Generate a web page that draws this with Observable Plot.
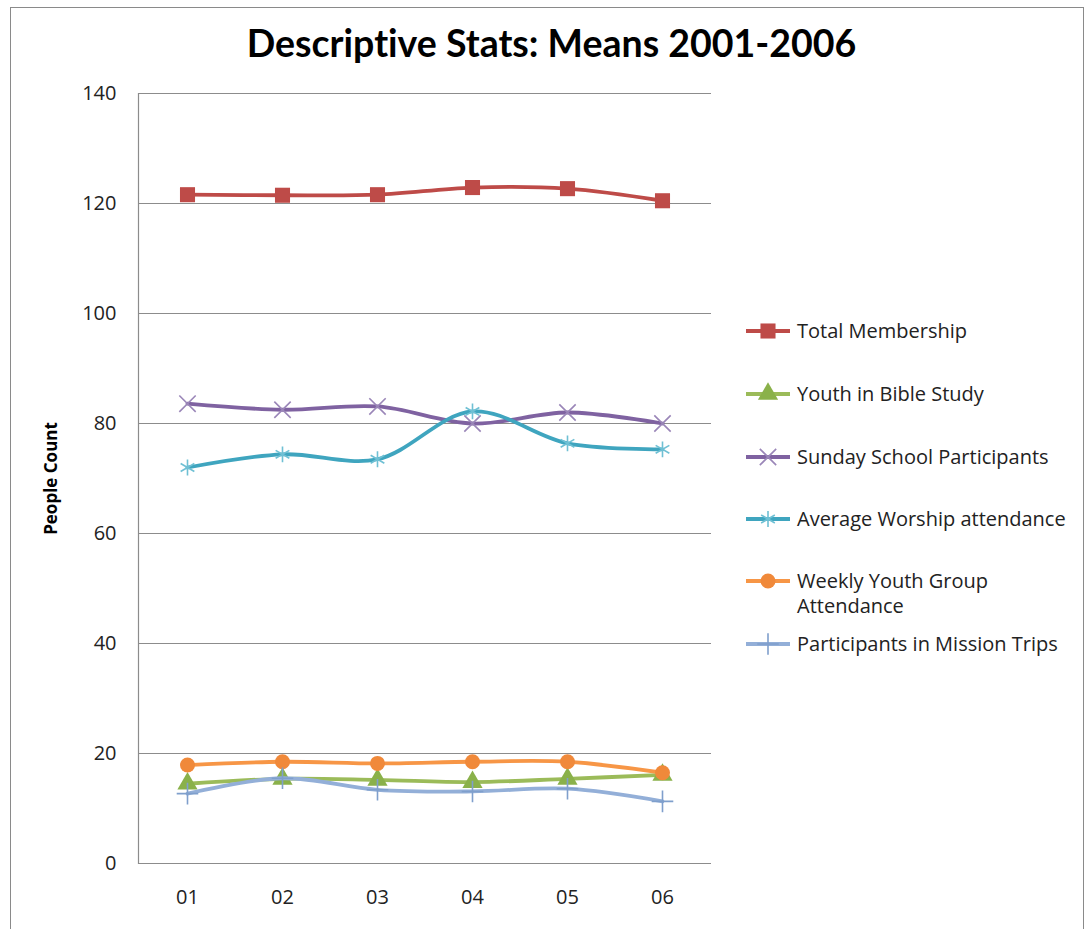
<!DOCTYPE html>
<html>
<head>
<meta charset="utf-8">
<script src="https://cdn.jsdelivr.net/npm/d3@7"></script>
<script src="https://cdn.jsdelivr.net/npm/@observablehq/plot@0.6"></script>
<style>
  html, body { margin: 0; padding: 0; background: #fff; }
  #wrap { position: relative; width: 1089px; height: 929px; overflow: hidden; font-family: "Open Sans", sans-serif; }
  #border { position: absolute; left: 10px; top: 7px; width: 1074px; height: 940px; border: 1.5px solid #8a8a8a; box-sizing: border-box; }
  #title { position: absolute; left: 0; width: 1103px; top: 20px; text-align: center; font-family: Lato, sans-serif; font-weight: bold; font-size: 37.5px; color: #000; font-variant-ligatures: none; font-feature-settings: "liga" 0; }
  #chart { position: absolute; left: 0; top: 70px; }
  #legend { position: absolute; left: 745px; top: 0; font-family: "Open Sans", sans-serif; font-size: 20px; color: #222; }
  .item { position: absolute; left: 0; display: flex; align-items: flex-start; white-space: nowrap; line-height: 25px; }
  .item svg { flex: none; margin-top: 1px; }
  .item span { margin-left: 6px; }
  #chart svg [aria-label="y-axis label"] text { font-weight: bold; font-size: 17px; fill: #000; }
  #chart svg [aria-label="y-axis tick label"] text, #chart svg [aria-label="x-axis tick label"] text { font-size: 20px !important; }
</style>
</head>
<body>
<div id="wrap">
  <div id="border"></div>
  <div id="title">Descriptive Stats: Means 2001-2006</div>
  <div id="chart"></div>
  <div id="legend"></div>
</div>
<script>
// ---- data ----
const years = ["01", "02", "03", "04", "05", "06"];
const seriesNames = [
  "Total Membership",
  "Youth in Bible Study",
  "Sunday School Participants",
  "Average Worship attendance",
  "Weekly Youth Group Attendance",
  "Participants in Mission Trips"
];
const totalMembership   = [121.6, 121.5, 121.6, 122.9, 122.7, 120.5];
const youthBibleStudy   = [14.5, 15.4, 15.2, 14.8, 15.4, 16.1];
const sundaySchool      = [83.6, 82.5, 83.1, 80.0, 82.0, 80.0];
const worshipAttendance = [72.0, 74.4, 73.5, 82.2, 76.4, 75.3];
const weeklyYouthGroup  = [17.9, 18.5, 18.2, 18.5, 18.5, 16.5];
const missionTrips      = [12.7, 15.5, 13.4, 13.1, 13.6, 11.3];
const yTicks = [0, 20, 40, 60, 80, 100, 120, 140];

// ---- styles ----
const lineColors   = ["#be4b48", "#9bbb59", "#7f62a1", "#3fa5bf", "#f79646", "#93afd8"];
const markerColors = ["#be4b48", "#8ab14a", "#9a86b8", "#6fc0d4", "#f0893a", "#7f9fcc"];
const symbols      = ["square", "triangle", "times", "asterisk", "circle", "plus"];
const filled       = [true, true, false, false, true, false];
const radii        = [8.5, 7.5, 7.5, 7.5, 7.5, 7];
const legendLabels = [
  "Total Membership",
  "Youth in Bible Study",
  "Sunday School Participants",
  "Average Worship attendance",
  "Weekly Youth Group<br>Attendance",
  "Participants in Mission Trips"
];
const legendTops = [318, 381, 444, 506, 568, 631];

const allValues = [totalMembership, youthBibleStudy, sundaySchool, worshipAttendance, weeklyYouthGroup, missionTrips];
const rows = [];
allValues.forEach((vals, si) => vals.forEach((v, i) => rows.push({series: seriesNames[si], si, year: years[i], value: v})));

const marks = [
  Plot.gridY(yTicks, {stroke: "#8c8c8c", strokeOpacity: 1, strokeWidth: 1.2}),
  Plot.frame({anchor: "left", stroke: "#8c8c8c", strokeWidth: 1.2}),
  Plot.axisY(yTicks, {tickSize: 0, tickPadding: 22, fontSize: 20, label: "People Count", labelAnchor: "center", labelArrow: "none", labelOffset: 94, fill: "#222"}),
  Plot.axisX({tickSize: 0, tickPadding: 26, fontSize: 20, label: null, fill: "#222"})
];
seriesNames.forEach((name, si) => {
  const data = rows.filter(d => d.si === si);
  marks.push(Plot.line(data, {x: "year", y: "value", stroke: lineColors[si], strokeWidth: 3.8, curve: "catmull-rom"}));
  marks.push(Plot.dot(data, {
    x: "year", y: "value", symbol: symbols[si], r: radii[si],
    fill: filled[si] ? markerColors[si] : "none",
    stroke: markerColors[si], strokeWidth: filled[si] ? 0 : 1.6
  }));
});

const chart = Plot.plot({
  width: 731,
  height: 853,
  marginLeft: 138,
  marginRight: 20,
  marginTop: 23,
  marginBottom: 60,
  style: {fontFamily: "'Open Sans', sans-serif", fontSize: "18px", color: "#222"},
  x: {type: "point", domain: years, padding: 0.5},
  y: {domain: [0, 140]},
  marks
});
document.getElementById("chart").appendChild(chart);

// ---- legend ----
const legend = document.getElementById("legend");
seriesNames.forEach((name, si) => {
  const item = document.createElement("div");
  item.className = "item";
  item.style.top = legendTops[si] + "px";
  const ns = "http://www.w3.org/2000/svg";
  const svg = document.createElementNS(ns, "svg");
  svg.setAttribute("width", 46); svg.setAttribute("height", 24);
  const ln = document.createElementNS(ns, "line");
  ln.setAttribute("x1", 1); ln.setAttribute("x2", 45); ln.setAttribute("y1", 12); ln.setAttribute("y2", 12);
  ln.setAttribute("stroke", lineColors[si]); ln.setAttribute("stroke-width", 3.8);
  svg.appendChild(ln);
  const symMap = {square: d3.symbolSquare, triangle: d3.symbolTriangle, times: d3.symbolTimes, asterisk: d3.symbolAsterisk, circle: d3.symbolCircle, plus: d3.symbolPlus};
  const p = document.createElementNS(ns, "path");
  p.setAttribute("d", d3.symbol(symMap[symbols[si]], radii[si] * radii[si] * Math.PI)());
  p.setAttribute("transform", "translate(23,12)");
  p.setAttribute("fill", filled[si] ? markerColors[si] : "none");
  p.setAttribute("stroke", markerColors[si]);
  p.setAttribute("stroke-width", filled[si] ? 0 : 1.6);
  svg.appendChild(p);
  item.appendChild(svg);
  const span = document.createElement("span");
  span.innerHTML = legendLabels[si];
  item.appendChild(span);
  legend.appendChild(item);
});
</script>
</body>
</html>
